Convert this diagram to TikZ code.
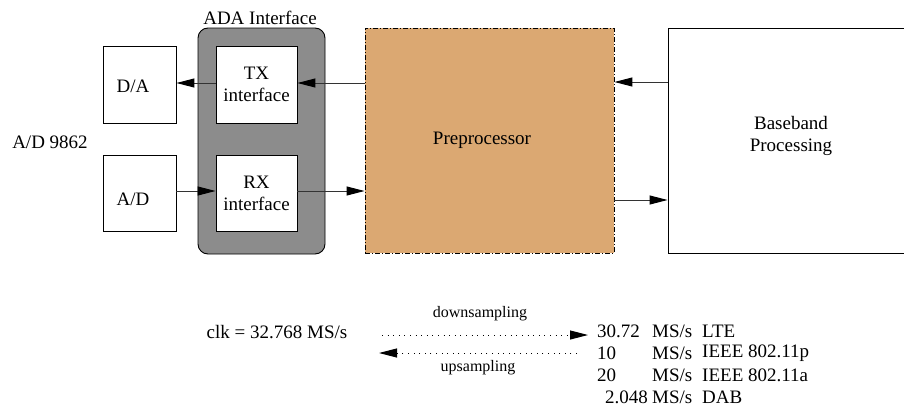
\documentclass[tikz,border=0pt]{standalone}
\usepackage{fontspec}
\setmainfont{Liberation Serif}
\usetikzlibrary{arrows.meta}
\definecolor{orangefill}{RGB}{219,168,114}
\definecolor{adagray}{RGB}{140,140,140}
\tikzset{
  box/.style={draw=black, line width=0.9pt, fill=white},
  txt/.style={inner sep=0pt, font=\rmfamily\fontsize{19}{22}\selectfont, align=center},
  smalltxt/.style={inner sep=0pt, font=\rmfamily\fontsize{16}{18}\selectfont},
  conn/.style={draw=black!80, line width=1pt, -{Triangle[length=18pt,width=9pt,fill=black,color=black]}},
  dotconn/.style={draw=black, line width=1pt, dash pattern=on 1pt off 4.6pt, -{Triangle[length=18pt,width=9pt,sep=0pt]}},
}
\begin{document}
\begin{tikzpicture}[x=1pt,y=-1pt]
\useasboundingbox (0,0) rectangle (904,407);
\clip (0,0) rectangle (904,407);
% ADA interface background
\node[draw=black, line width=0.9pt, fill=adagray, rounded corners=10pt, minimum width=127pt, minimum height=226pt, inner sep=0pt] (ada) at (261.5,141) {};
\node[txt] (adalbl) at (260,18) {ADA Interface};
% boxes
\node[box, minimum width=73pt, minimum height=77pt, inner sep=0pt] (da) at (139.5,84.5) {};
\node[box, minimum width=73pt, minimum height=76pt, inner sep=0pt] (ad) at (139.5,193) {};
\node[box, minimum width=81pt, minimum height=77pt, inner sep=0pt] (tx) at (256.5,84.5) {};
\node[box, minimum width=81pt, minimum height=76pt, inner sep=0pt] (rx) at (256.5,193) {};
\node[draw=black, line width=0.9pt, fill=orangefill, dash pattern=on 5pt off 2pt on 1pt off 2pt, minimum width=249pt, minimum height=225pt, inner sep=0pt] (pre) at (489.5,140.5) {};
\node[box, minimum width=260pt, minimum height=225pt, inner sep=0pt] (bb) at (798,140.5) {};
% texts
\node[txt] (datxt) at (133,86) {D/A};
\node[txt] (adtxt) at (133,199) {A/D};
\node[txt] (txtxt) at (256.5,84.5) {TX\\interface};
\node[txt] (rxtxt) at (256.5,193) {RX\\interface};
\node[txt] (adchip) at (50,142) {A/D 9862};
\node[txt] (pretxt) at (482,140) {Preprocessor};
\node[txt] (bbtxt) at (791,136) {Baseband\\Processing};
% connectors
\draw[conn] (tx.west |- 0,83) -- (da.east |- 0,83);
\draw[conn] (pre.west |- 0,83) -- (tx.east |- 0,83);
\draw[conn] (bb.west |- 0,82) -- (pre.east |- 0,82);
\draw[conn] (ad.east |- 0,191) -- (rx.west |- 0,191);
\draw[conn] (rx.east |- 0,191) -- (pre.west |- 0,191);
\draw[conn] (pre.east |- 0,200) -- (bb.west |- 0,200);
% bottom
\node[txt] (clk) at (277,332) {clk = 32.768 MS/s};
\coordinate (dsA) at (382,335);
\coordinate (dsB) at (588,335);
\coordinate (usA) at (577,353);
\coordinate (usB) at (379,353);
\draw[dotconn] (dsA) -- (dsB);
\draw[dotconn] (usA) -- (usB);
\node[smalltxt] (dslbl) at (480,314) {downsampling};
\node[smalltxt] (uslbl) at (478,368) {upsampling};
\node[txt, anchor=west] (r1a) at (597,331) {30.72};
\node[txt, anchor=west] (r2a) at (597,353) {10};
\node[txt, anchor=west] (r3a) at (597,375) {20};
\node[txt, anchor=east] (r4a) at (648,397) {2.048};
\node[txt, anchor=west] (r1b) at (652,331) {MS/s};
\node[txt, anchor=west] (r2b) at (652,353) {MS/s};
\node[txt, anchor=west] (r3b) at (652,375) {MS/s};
\node[txt, anchor=west] (r4b) at (652,397) {MS/s};
\node[txt, anchor=west] (r1c) at (702,331) {LTE};
\node[txt, anchor=west] (r2c) at (702,353) {IEEE 802.11p};
\node[txt, anchor=west] (r3c) at (702,375) {IEEE 802.11a};
\node[txt, anchor=west] (r4c) at (702,397) {DAB};
\end{tikzpicture}
\end{document}
